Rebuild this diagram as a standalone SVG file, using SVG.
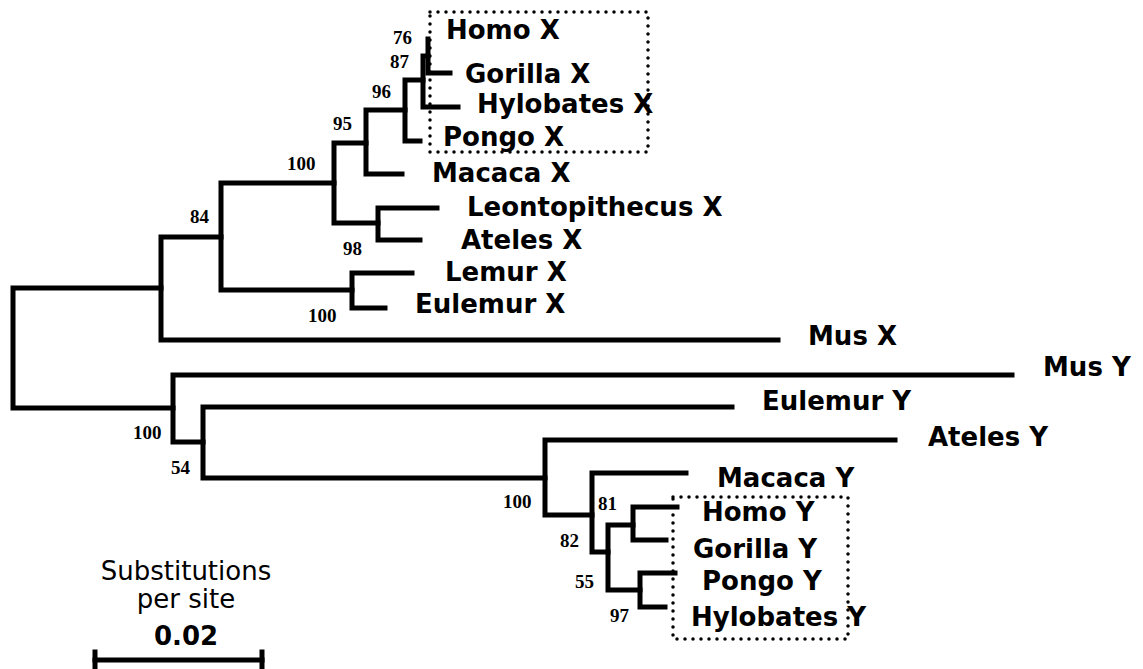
<svg xmlns="http://www.w3.org/2000/svg" width="1143" height="669" viewBox="0 0 1143 669">
<style>
.br{fill:none;stroke:#000;stroke-width:5;stroke-linejoin:miter;stroke-linecap:square}
.lb{font-family:"DejaVu Sans","Verdana",sans-serif;font-weight:bold;font-size:26px;fill:#000}
.bs{font-family:"Liberation Serif","Times New Roman",serif;font-weight:bold;font-size:19px;fill:#000}
.box{fill:none;stroke:#000;stroke-width:3.5;stroke-dasharray:0 8;stroke-linecap:round}
.sc{font-family:"DejaVu Sans","Verdana",sans-serif;font-size:26px;fill:#000;text-anchor:middle}
</style>
<rect width="1143" height="669" fill="#fff"/>
<g id="connectors">
<path class="br" d="M161,288 H13 V408 H173"/>
<path class="br" d="M221,237 H161 V340 H778"/>
<path class="br" d="M334,183 H221 V290 H352"/>
<path class="br" d="M412,273 H352 V308 H385"/>
<path class="br" d="M366,143 H334 V223 H378"/>
<path class="br" d="M437,208 H378 V240 H420"/>
<path class="br" d="M405,110 H366 V174 H402"/>
<path class="br" d="M423,80 H405 V141 H420"/>
<path class="br" d="M428,56 H423 V107 H458"/>
<path class="br" d="M428,39 V73 H450"/>
<path class="br" d="M1012,375 H173 V442 H203"/>
<path class="br" d="M732,407 H203 V478 H545"/>
<path class="br" d="M895,440 H545 V515 H592"/>
<path class="br" d="M686,473 H592 V552 H608"/>
<path class="br" d="M633,525 H608 V590 H640"/>
<path class="br" d="M677,507 H633 V540 H666"/>
<path class="br" d="M675,573 H640 V607 H665"/>
</g>
<g id="boxes">
<rect class="box" x="430" y="12" width="218" height="140"/>
<rect class="box" x="673" y="497" width="175" height="142"/>
</g>
<g id="support">
<text class="bs" x="393" y="44">76</text>
<text class="bs" x="390" y="68">87</text>
<text class="bs" x="372" y="98">96</text>
<text class="bs" x="333" y="130">95</text>
<text class="bs" x="287" y="170">100</text>
<text class="bs" x="190" y="223">84</text>
<text class="bs" x="343" y="255">98</text>
<text class="bs" x="308" y="322">100</text>
<text class="bs" x="133" y="439">100</text>
<text class="bs" x="171" y="474">54</text>
<text class="bs" x="503" y="508">100</text>
<text class="bs" x="598" y="510">81</text>
<text class="bs" x="560" y="547">82</text>
<text class="bs" x="575" y="588">55</text>
<text class="bs" x="610" y="622">97</text>
</g>
<g id="n-homo-x"><text class="lb" x="446" y="39">Homo X</text></g>
<g id="n-gorilla-x"><text class="lb" x="465" y="83">Gorilla X</text></g>
<g id="n-hylobates-x"><text class="lb" x="477" y="113">Hylobates X</text></g>
<g id="n-pongo-x"><text class="lb" x="443" y="146">Pongo X</text></g>
<g id="n-macaca-x"><text class="lb" x="432" y="182">Macaca X</text></g>
<g id="n-leonto-x"><text class="lb" x="467" y="216">Leontopithecus X</text></g>
<g id="n-ateles-x"><text class="lb" x="461" y="249">Ateles X</text></g>
<g id="n-lemur-x"><text class="lb" x="445" y="281">Lemur X</text></g>
<g id="n-eulemur-x"><text class="lb" x="415" y="313">Eulemur X</text></g>
<g id="n-mus-x"><text class="lb" x="808" y="345">Mus X</text></g>
<g id="n-mus-y"><text class="lb" x="1043" y="376">Mus Y</text></g>
<g id="n-eulemur-y"><text class="lb" x="762" y="410">Eulemur Y</text></g>
<g id="n-ateles-y"><text class="lb" x="928" y="446">Ateles Y</text></g>
<g id="n-macaca-y"><text class="lb" x="717" y="487">Macaca Y</text></g>
<g id="n-homo-y"><text class="lb" x="702" y="521">Homo Y</text></g>
<g id="n-gorilla-y"><text class="lb" x="693" y="558">Gorilla Y</text></g>
<g id="n-pongo-y"><text class="lb" x="702" y="590">Pongo Y</text></g>
<g id="n-hylobates-y"><text class="lb" x="691" y="626">Hylobates Y</text></g>
<g id="scale">
<text class="sc" x="186" y="580">Substitutions</text>
<text class="sc" x="186" y="608">per site</text>
<text class="sc" x="186" y="645" font-weight="bold">0.02</text>
<path class="br" d="M95,660 H262"/>
<path class="br" d="M95,652 V667 M262,652 V667"/>
</g>
</svg>
